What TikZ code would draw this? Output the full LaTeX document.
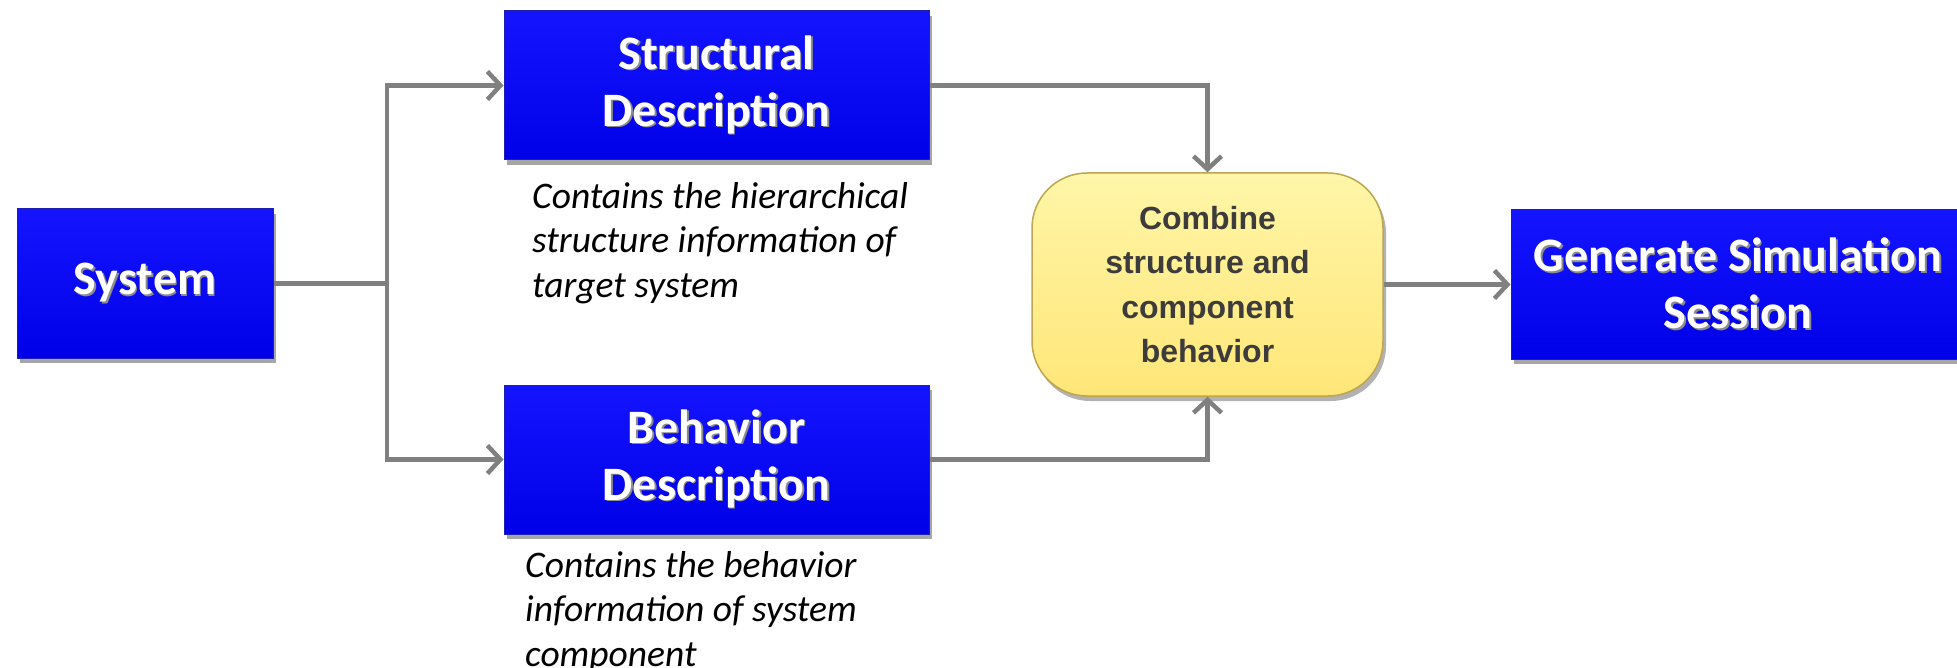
\documentclass[tikz,border=0pt]{standalone}
\usepackage{fontspec}
\setmainfont{Carlito}
\newfontfamily\arialfont{Liberation Sans}
\usetikzlibrary{arrows.meta,shadows}

\definecolor{boxtop}{RGB}{20,20,255}
\definecolor{boxbot}{RGB}{0,0,232}
\definecolor{boxedge}{RGB}{30,30,175}
\definecolor{linegray}{RGB}{128,128,128}
\definecolor{combtop}{RGB}{255,246,168}
\definecolor{combbot}{RGB}{255,230,120}
\definecolor{combedge}{RGB}{190,165,80}
\definecolor{combtext}{RGB}{60,60,60}

% white title text with a soft grey relief
\newcommand\embossed[1]{\leavevmode\rlap{\hspace{1.6pt}\raisebox{-1.6pt}{\textcolor{black!45}{#1}}}\textcolor{white}{#1}}

\begin{document}
\begin{tikzpicture}[x=1pt,y=-1pt,
  bluebox/.style={rectangle, draw=boxedge, line width=1pt,
    top color=boxtop, bottom color=boxbot,
    minimum height=149pt, inner sep=0pt, align=center,
    font=\fontsize{48}{57}\selectfont\bfseries,
    drop shadow={shadow xshift=3pt, shadow yshift=-5pt, opacity=0.35, fill=black}},
  combbox/.style={rectangle, rounded corners=55pt, draw=combedge, line width=1.5pt,
    top color=combtop, bottom color=combbot,
    minimum width=351pt, minimum height=223pt, inner sep=0pt, align=center,
    font=\arialfont\bfseries\fontsize{32}{44.5}\selectfont, text=combtext,
    drop shadow={shadow xshift=3pt, shadow yshift=-5pt, opacity=0.3, fill=black}},
  note/.style={anchor=north west, inner sep=0pt, align=left,
    font=\itshape\fontsize{37.5}{44.5}\selectfont},
  link/.style={draw=linegray, line width=4.5pt},
  flow/.style={link, -{Straight Barb[length=13pt,width=28pt]}}
]
\useasboundingbox (0,0) rectangle (1957,668);

\node[bluebox, minimum width=256pt] (sys) at (145,283.5) {\embossed{System}};
\node[bluebox, minimum width=425pt] (str) at (716.5,85.5) {\embossed{Structural}\\\embossed{Description}};
\node[bluebox, minimum width=425pt] (beh) at (716.5,459.5) {\embossed{Behavior}\\\embossed{Description}};
\node[combbox] (comb) at (1207.5,284.5) {Combine\\structure and\\component\\behavior};
\node[bluebox, minimum width=454pt] (gen) at (1738,284.5) {\embossed{Generate Simulation}\\\embossed{Session}};

\node[note] (strnote) at (532,182) {Contains the hierarchical\\structure information of\\target system};
\node[note] (behnote) at (525,551) {Contains the behavior\\information of system\\component};

\coordinate (split) at (387,283.5);
\draw[link] (sys.east) -- (split);
\draw[flow] (split) |- (str.west);
\draw[flow] (split) |- (beh.west);
\draw[flow] (str.east) -| (comb.north);
\draw[flow] (beh.east) -| (comb.south);
\draw[flow] (comb.east) -- (gen.west);
\end{tikzpicture}
\end{document}
